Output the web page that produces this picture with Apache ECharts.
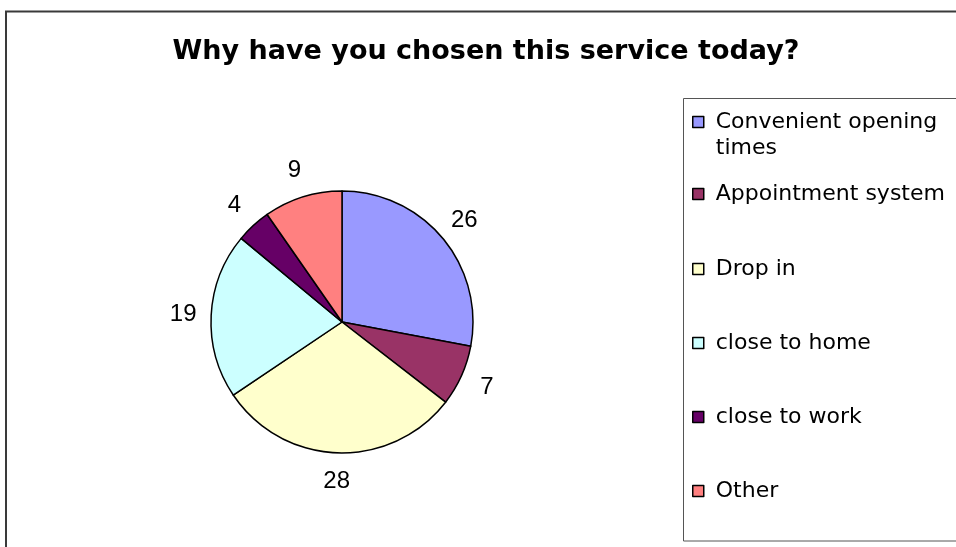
<!DOCTYPE html>
<html>
<head>
<meta charset="utf-8">
<title>Why have you chosen this service today?</title>
<script src="https://cdn.jsdelivr.net/npm/echarts@6/dist/echarts.min.js"></script>
<style>
  html, body { margin: 0; padding: 0; background: #ffffff; }
  #chart { width: 956px; height: 547px; }
</style>
</head>
<body>
<div id="chart"></div>
<script>
// Survey answers: reasons for choosing the service
const titleText = 'Why have you chosen this service today?';
const categories = [
  'Convenient opening times',
  'Appointment system',
  'Drop in',
  'close to home',
  'close to work',
  'Other'
];
const counts = [26, 7, 28, 19, 4, 9];
const sliceColors = ['#9999FF', '#993366', '#FFFFCC', '#CCFFFF', '#660066', '#FF8080'];

// Legend wording (first entry wraps onto a second line)
const legendLines = [
  ['Convenient opening', 'times'],
  ['Appointment system'],
  ['Drop in'],
  ['close to home'],
  ['close to work'],
  ['Other']
];
// vertical centre of each legend swatch
const legendRowY = [122, 194, 269, 343, 417, 491];

const LABEL_FONT = '"Liberation Sans", Arial, sans-serif';
const WIDE_FONT = '"DejaVu Sans", Verdana, sans-serif';
const LEGEND_LH = 26;
const PIE_CENTER = [342, 322];
const PIE_R = 131;

const pieData = categories.map((name, i) => ({
  name: name,
  value: counts[i],
  itemStyle: { color: sliceColors[i] }
}));

// One legend block per entry so each row sits at its own height.
// A wrapped entry gets an empty leading line so its first line stays level with the swatch.
const legends = categories.map((name, i) => {
  const lines = legendLines[i];
  const text = lines.length > 1 ? '\n' + lines.join('\n') : lines[0];
  const nLines = lines.length > 1 ? lines.length + 1 : 1;
  return {
    orient: 'vertical',
    left: 692,
    top: legendRowY[i] - nLines * LEGEND_LH / 2,
    padding: 0,
    itemWidth: 11,
    itemHeight: 11,
    icon: 'rect',
    selectedMode: false,
    itemStyle: { borderColor: '#000000', borderWidth: 1.5 },
    data: [name],
    formatter: () => text,
    textStyle: {
      fontFamily: WIDE_FONT,
      fontSize: 22,
      color: '#000000',
      lineHeight: LEGEND_LH,
      padding: [0, 0, 0, 7]
    }
  };
});

const chart = echarts.init(document.getElementById('chart'), null, { renderer: 'canvas' });

chart.setOption({
  backgroundColor: '#ffffff',
  animation: false,
  title: {
    text: titleText,
    left: 486,
    top: 38,
    textAlign: 'center',
    padding: 0,
    textStyle: {
      fontFamily: WIDE_FONT,
      fontSize: 27,
      fontWeight: 'bold',
      color: '#000000'
    }
  },
  legend: legends,
  graphic: [
    {
      // outer chart frame
      type: 'rect',
      z: -10,
      shape: { x: 6, y: 11.5, width: 1000, height: 600 },
      style: { fill: 'none', stroke: '#3a3a3a', lineWidth: 2 }
    },
    {
      // legend box
      type: 'rect',
      z: -10,
      shape: { x: 683.5, y: 98.5, width: 400, height: 442.5 },
      style: { fill: '#ffffff', stroke: '#555555', lineWidth: 1 }
    }
  ],
  series: [
    {
      type: 'pie',
      center: PIE_CENTER,
      radius: [0, PIE_R],
      startAngle: 90,
      clockwise: true,
      avoidLabelOverlap: false,
      silent: true,
      label: { show: false },
      labelLine: { show: false },
      itemStyle: { borderColor: '#000000', borderWidth: 1.5 },
      data: pieData
    },
    {
      // transparent ring that carries the value labels just outside the pie
      type: 'pie',
      center: PIE_CENTER,
      radius: [PIE_R, PIE_R + 50],
      startAngle: 90,
      clockwise: true,
      avoidLabelOverlap: false,
      silent: true,
      itemStyle: { color: 'rgba(0,0,0,0)', borderWidth: 0 },
      label: {
        show: true,
        position: 'inside',
        formatter: '{c}',
        fontFamily: LABEL_FONT,
        fontSize: 24,
        color: '#000000'
      },
      labelLine: { show: false },
      data: categories.map((name, i) => ({ name: name, value: counts[i] }))
    }
  ]
});
</script>
</body>
</html>
